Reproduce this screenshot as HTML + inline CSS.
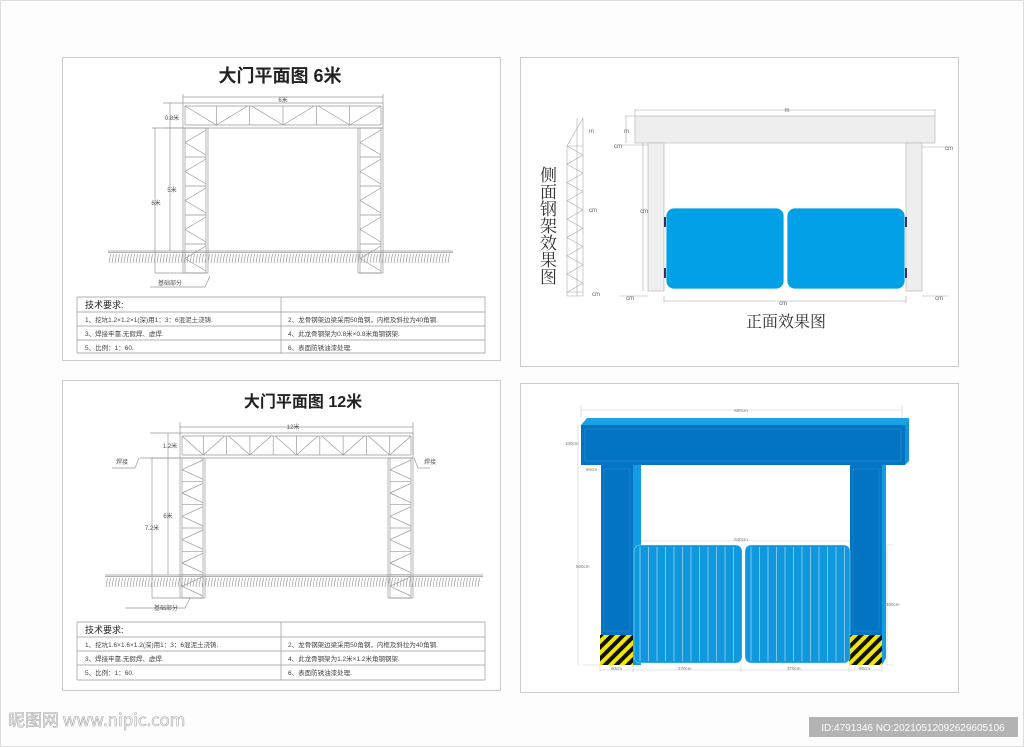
<!DOCTYPE html>
<html><head><meta charset="utf-8"><style>
html,body{margin:0;padding:0;background:#fdfdfd}
svg{display:block}
text{font-family:"Liberation Sans","Noto Sans CJK SC",sans-serif}
</style></head><body>
<svg id="s" width="1024" height="747" viewBox="0 0 1024 747" xmlns="http://www.w3.org/2000/svg">
<rect x="0.5" y="0.5" width="1023" height="746" fill="#fdfdfd" stroke="#ddd"/>
<rect x="62.5" y="57.5" width="438" height="303" fill="#fff" stroke="#ccc"/>
<rect x="62.5" y="380.5" width="438" height="310" fill="#fff" stroke="#ccc"/>
<rect x="520.5" y="57.5" width="438" height="309" fill="#fff" stroke="#ccc"/>
<rect x="520.5" y="383.5" width="438" height="309" fill="#fff" stroke="#ccc"/>

<g id="g1" stroke="#999" stroke-width="0.7" fill="none"></g>

<text x="280" y="82" font-size="18" text-anchor="middle" fill="#222" style="font-weight:600">大门平面图 6米</text>
<text x="283" y="102" font-size="6" text-anchor="middle" fill="#555">6米</text>
<text x="172" y="120" font-size="6" text-anchor="middle" fill="#555">0.8米</text>
<text x="172" y="192" font-size="6" text-anchor="middle" fill="#555">5米</text>
<text x="156" y="205" font-size="6" text-anchor="middle" fill="#555">6米</text>
<text x="170" y="285" font-size="6" text-anchor="middle" fill="#555">基础部分</text>
<text x="85" y="308" font-size="9" fill="#222">技术要求:</text>
<text x="85" y="322" font-size="6.5" fill="#444">1、挖坑1.2×1.2×1(深)用1：3：6混泥土浇铸.</text>
<text x="288" y="322" font-size="6.5" fill="#444">2、龙骨钢架边梁采用50角钢，内框及斜拉为40角钢.</text>
<text x="85" y="336" font-size="6.5" fill="#444">3、焊接牢靠,无假焊、虚焊.</text>
<text x="288" y="336" font-size="6.5" fill="#444">4、此龙骨钢架为0.8米×0.8米角钢钢架.</text>
<text x="85" y="350" font-size="6.5" fill="#444">5、比例：1：60.</text>
<text x="288" y="350" font-size="6.5" fill="#444">6、表面防锈油漆处理.</text>

<text x="303" y="407" font-size="16" text-anchor="middle" fill="#222" style="font-weight:600">大门平面图 12米</text>
<text x="293" y="429" font-size="6" text-anchor="middle" fill="#555">12米</text>
<text x="170" y="448" font-size="6" text-anchor="middle" fill="#555">1.2米</text>
<text x="168" y="518" font-size="6" text-anchor="middle" fill="#555">6米</text>
<text x="152" y="530" font-size="6" text-anchor="middle" fill="#555">7.2米</text>
<text x="122" y="464" font-size="6" text-anchor="middle" fill="#555">焊接</text>
<text x="430" y="464" font-size="6" text-anchor="middle" fill="#555">焊接</text>
<text x="166" y="610" font-size="6" text-anchor="middle" fill="#555">基础部分</text>
<text x="85" y="633" font-size="9" fill="#222">技术要求:</text>
<text x="85" y="647" font-size="6.5" fill="#444">1、挖坑1.6×1.6×1.2(深)用1：3：6混泥土浇铸.</text>
<text x="288" y="647" font-size="6.5" fill="#444">2、龙骨钢架边梁采用50角钢，内框及斜拉为40角钢.</text>
<text x="85" y="661" font-size="6.5" fill="#444">3、焊接牢靠,无假焊、虚焊.</text>
<text x="288" y="661" font-size="6.5" fill="#444">4、此龙骨钢架为1.2米×1.2米角钢钢架.</text>
<text x="85" y="675" font-size="6.5" fill="#444">5、比例：1：60.</text>
<text x="288" y="675" font-size="6.5" fill="#444">6、表面防锈油漆处理.</text>

<g fill="#eee" stroke="#bbb" stroke-width="0.7">
<rect x="635" y="116" width="300" height="27"/>
<rect x="648" y="143" width="16" height="148"/>
<rect x="906" y="143" width="16" height="148"/>
</g>
<g stroke="#aaa" stroke-width="0.6" fill="none">
<path d="M635 109V116M935 109V116M635 110H935"/>
<path d="M626 116V143M625 116H635"/>
<path d="M620 145H648M922 147H948M620 296H648M922 296H948M664 296V303M906 296V303M664 301H906M643 143V291"/>
<path d="M567 146L583 118V296H567Z M567 146H583 M567 292H583"/>
</g>
<g id="side" stroke="#aaa" stroke-width="0.6" fill="none"></g>
<g fill="#02a0e6" stroke="#fff" stroke-width="0.8">
<rect x="666" y="208" width="118" height="81" rx="8"/>
<rect x="787" y="208" width="118" height="81" rx="8"/>
</g>
<g fill="#335">
<rect x="664" y="217" width="2" height="10"/><rect x="664" y="268" width="2" height="10"/>
<rect x="905" y="217" width="2" height="10"/><rect x="905" y="268" width="2" height="10"/>
</g>
<g font-size="6" fill="#666">
<text x="787" y="112" text-anchor="middle">m</text>
<text x="614" y="148">cm</text><text x="945" y="150">cm</text>
<text x="626" y="300">cm</text><text x="935" y="300">cm</text>
<text x="779" y="305">cm</text><text x="592" y="296">cm</text>
<text x="589" y="133">m</text><text x="589" y="212">cm</text><text x="624" y="133">m</text><text x="640" y="213">cm</text>
</g>
<text font-size="17" fill="#333" style="font-family:'Liberation Serif','Noto Serif CJK SC',serif">
<tspan x="540" y="181">侧</tspan><tspan x="540" y="198">面</tspan><tspan x="540" y="215">钢</tspan><tspan x="540" y="232">架</tspan><tspan x="540" y="249">效</tspan><tspan x="540" y="266">果</tspan><tspan x="540" y="283">图</tspan>
</text>
<text x="786" y="327" font-size="16" fill="#333" text-anchor="middle" style="font-family:'Liberation Serif','Noto Serif CJK SC',serif">正面效果图</text>

<g stroke="#ccc" stroke-width="0.6" fill="none">
<path d="M581 405V418M902 405V418M581 410H902M578 425V465M578 465V665M583 665H600M600 665V672M633 665V672M741 665V672M849 665V672M882 665V672M600 670H882M634 541V545M850 541V545M634 541H850M887 545V665M887 545H893M887 665H893"/>
</g>
<polygon points="581,425 587,418 909,418 905,425" fill="#1aa2e6"/>
<polygon points="905,425 909,418 909,461 905,465" fill="#1393d6"/>
<rect x="581" y="425" width="324" height="40" fill="#0274c2"/>
<rect x="585" y="429" width="316" height="32" fill="none" stroke="#3b8fd0" stroke-width="0.6"/>
<rect x="601" y="465" width="32" height="200" fill="#0274c2"/>
<rect x="633" y="465" width="8" height="200" fill="#129de0"/>
<rect x="850" y="465" width="32" height="200" fill="#0274c2"/>
<polygon points="882,465 886,465 886,658 882,665" fill="#129de0"/>
<rect x="604" y="469" width="26" height="162" fill="none" stroke="#2d8ed3" stroke-width="0.5"/>
<rect x="853" y="469" width="26" height="162" fill="none" stroke="#2d8ed3" stroke-width="0.5"/>
<defs>
<pattern id="hz" width="8" height="8" patternUnits="userSpaceOnUse" patternTransform="rotate(45)">
<rect width="8" height="8" fill="#f1e800"/><rect width="4" height="8" fill="#111"/>
</pattern>
</defs>
<rect x="600" y="635" width="33" height="30" fill="url(#hz)"/>
<rect x="849" y="635" width="33" height="30" fill="url(#hz)"/>
<rect x="634" y="545" width="108" height="118" rx="6" fill="#0f98de" stroke="#cfe" stroke-width="0.4"/>
<rect x="745" y="545" width="105" height="118" rx="6" fill="#0f98de" stroke="#cfe" stroke-width="0.4"/>
<g id="slats" stroke="#cfe3f0" stroke-width="0.6"></g>
<g font-size="4.5" fill="#777">
<text x="741" y="412" text-anchor="middle">600cm</text>
<text x="565" y="445">100cm</text>
<text x="586" y="471">50cm</text>
<text x="576" y="568">500cm</text>
<text x="741" y="541" text-anchor="middle">540cm</text>
<text x="886" y="606">300cm</text>
<text x="611" y="670">90cm</text>
<text x="678" y="670">270cm</text>
<text x="787" y="670">270cm</text>
<text x="859" y="670">90cm</text>
</g>

<text x="8" y="726" font-size="17" fill="none" stroke="#aaa" stroke-width="0.6" style="font-family:'Noto Sans CJK SC',sans-serif">昵图网 www.nipic.com</text>
<rect x="809" y="717" width="209" height="20" fill="#b3b3b3"/>
<text x="913" y="731" font-size="10" fill="#fff" text-anchor="middle">ID:4791346 NO:20210512092629605106</text>
</svg>
<script>
const NS="http://www.w3.org/2000/svg";
function L(g,x1,y1,x2,y2){const l=document.createElementNS(NS,"line");l.setAttribute("x1",x1);l.setAttribute("y1",y1);l.setAttribute("x2",x2);l.setAttribute("y2",y2);g.appendChild(l);}
function R(g,x,y,w,h){L(g,x,y,x+w,y);L(g,x+w,y,x+w,y+h);L(g,x+w,y+h,x,y+h);L(g,x,y+h,x,y);}
const g=document.getElementById("g1");
function gate(x1,x2,yt,yb,colW,yg,ybot,n,nv){
 R(g,x1,yt,x2-x1,yb-yt);R(g,x1+2,yt+3,x2-x1-4,yb-yt-6);
 const seg=(x2-x1)/n;
 for(let i=0;i<n;i++){const a=x1+i*seg;L(g,a+seg,yt+3,a+seg,yb-3);
  if(i%2==0)L(g,a+2,yt+3,a+seg,yb-3);else L(g,a,yb-3,a+seg-2,yt+3);}
 for(const cx of [x1,x2-colW]){
  R(g,cx,yb,colW,ybot-yb);R(g,cx+2,yb,colW-4,ybot-yb);
  const s=(ybot-yb)/nv;
  for(let j=0;j<nv;j++){const y=yb+j*s;L(g,cx+2,y+s,cx+colW-2,y+s);
   L(g,cx+colW-2,y+2,cx+2,y+s/2);L(g,cx+2,y+s/2,cx+colW-2,y+s-2);}
 }
 L(g,x1-75,yg,x2+70,yg);L(g,x1-75,yg+1.5,x2+70,yg+1.5);
 for(let x=x1-74;x<x2+68;x+=3)L(g,x,yg+12,x+1.5,yg+3);
}
gate(183,383,103,128,25,251,273,6,5);
gate(180,413,433,458,25,575,598,10,6);
[[183,97,383,97],[183,94,183,103],[383,94,383,103],[163,103,183,103],[163,128,183,128],[170,103,170,251],[152,128,183,128],[155,128,155,273],[155,273,183,273],[150,287,205,287],[205,287,210,276]].forEach(a=>L(g,...a));
R(g,77,297,408,56);L(g,281,297,281,353);L(g,77,312,485,312);L(g,77,326,485,326);L(g,77,340,485,340);
[[180,427,413,427],[180,422,180,435],[413,422,413,435],[150,433,180,433],[150,458,180,458],[168,433,168,575],[140,458,180,458],[152,458,152,598],[152,598,180,598],[112,468,135,468],[135,468,139,458],[430,468,418,468],[418,468,414,458],[125,608,185,608],[185,608,190,598]].forEach(a=>L(g,...a));
R(g,77,622,408,58);L(g,281,622,281,680);L(g,77,637,485,637);L(g,77,651,485,651);L(g,77,665,485,665);
const sd=document.getElementById("side");
for(let i=0;i<8;i++){const y=146+i*18.3;L(sd,567,y,583,y+9);L(sd,583,y+9,567,y+18.3);}
L(sd,577,118,577,296);
const sl=document.getElementById("slats");
for(let x=640;x<742;x+=8.5)L(sl,x,547,x,661);
for(let x=751;x<850;x+=8.5)L(sl,x,547,x,661);
</script>
</body></html>
